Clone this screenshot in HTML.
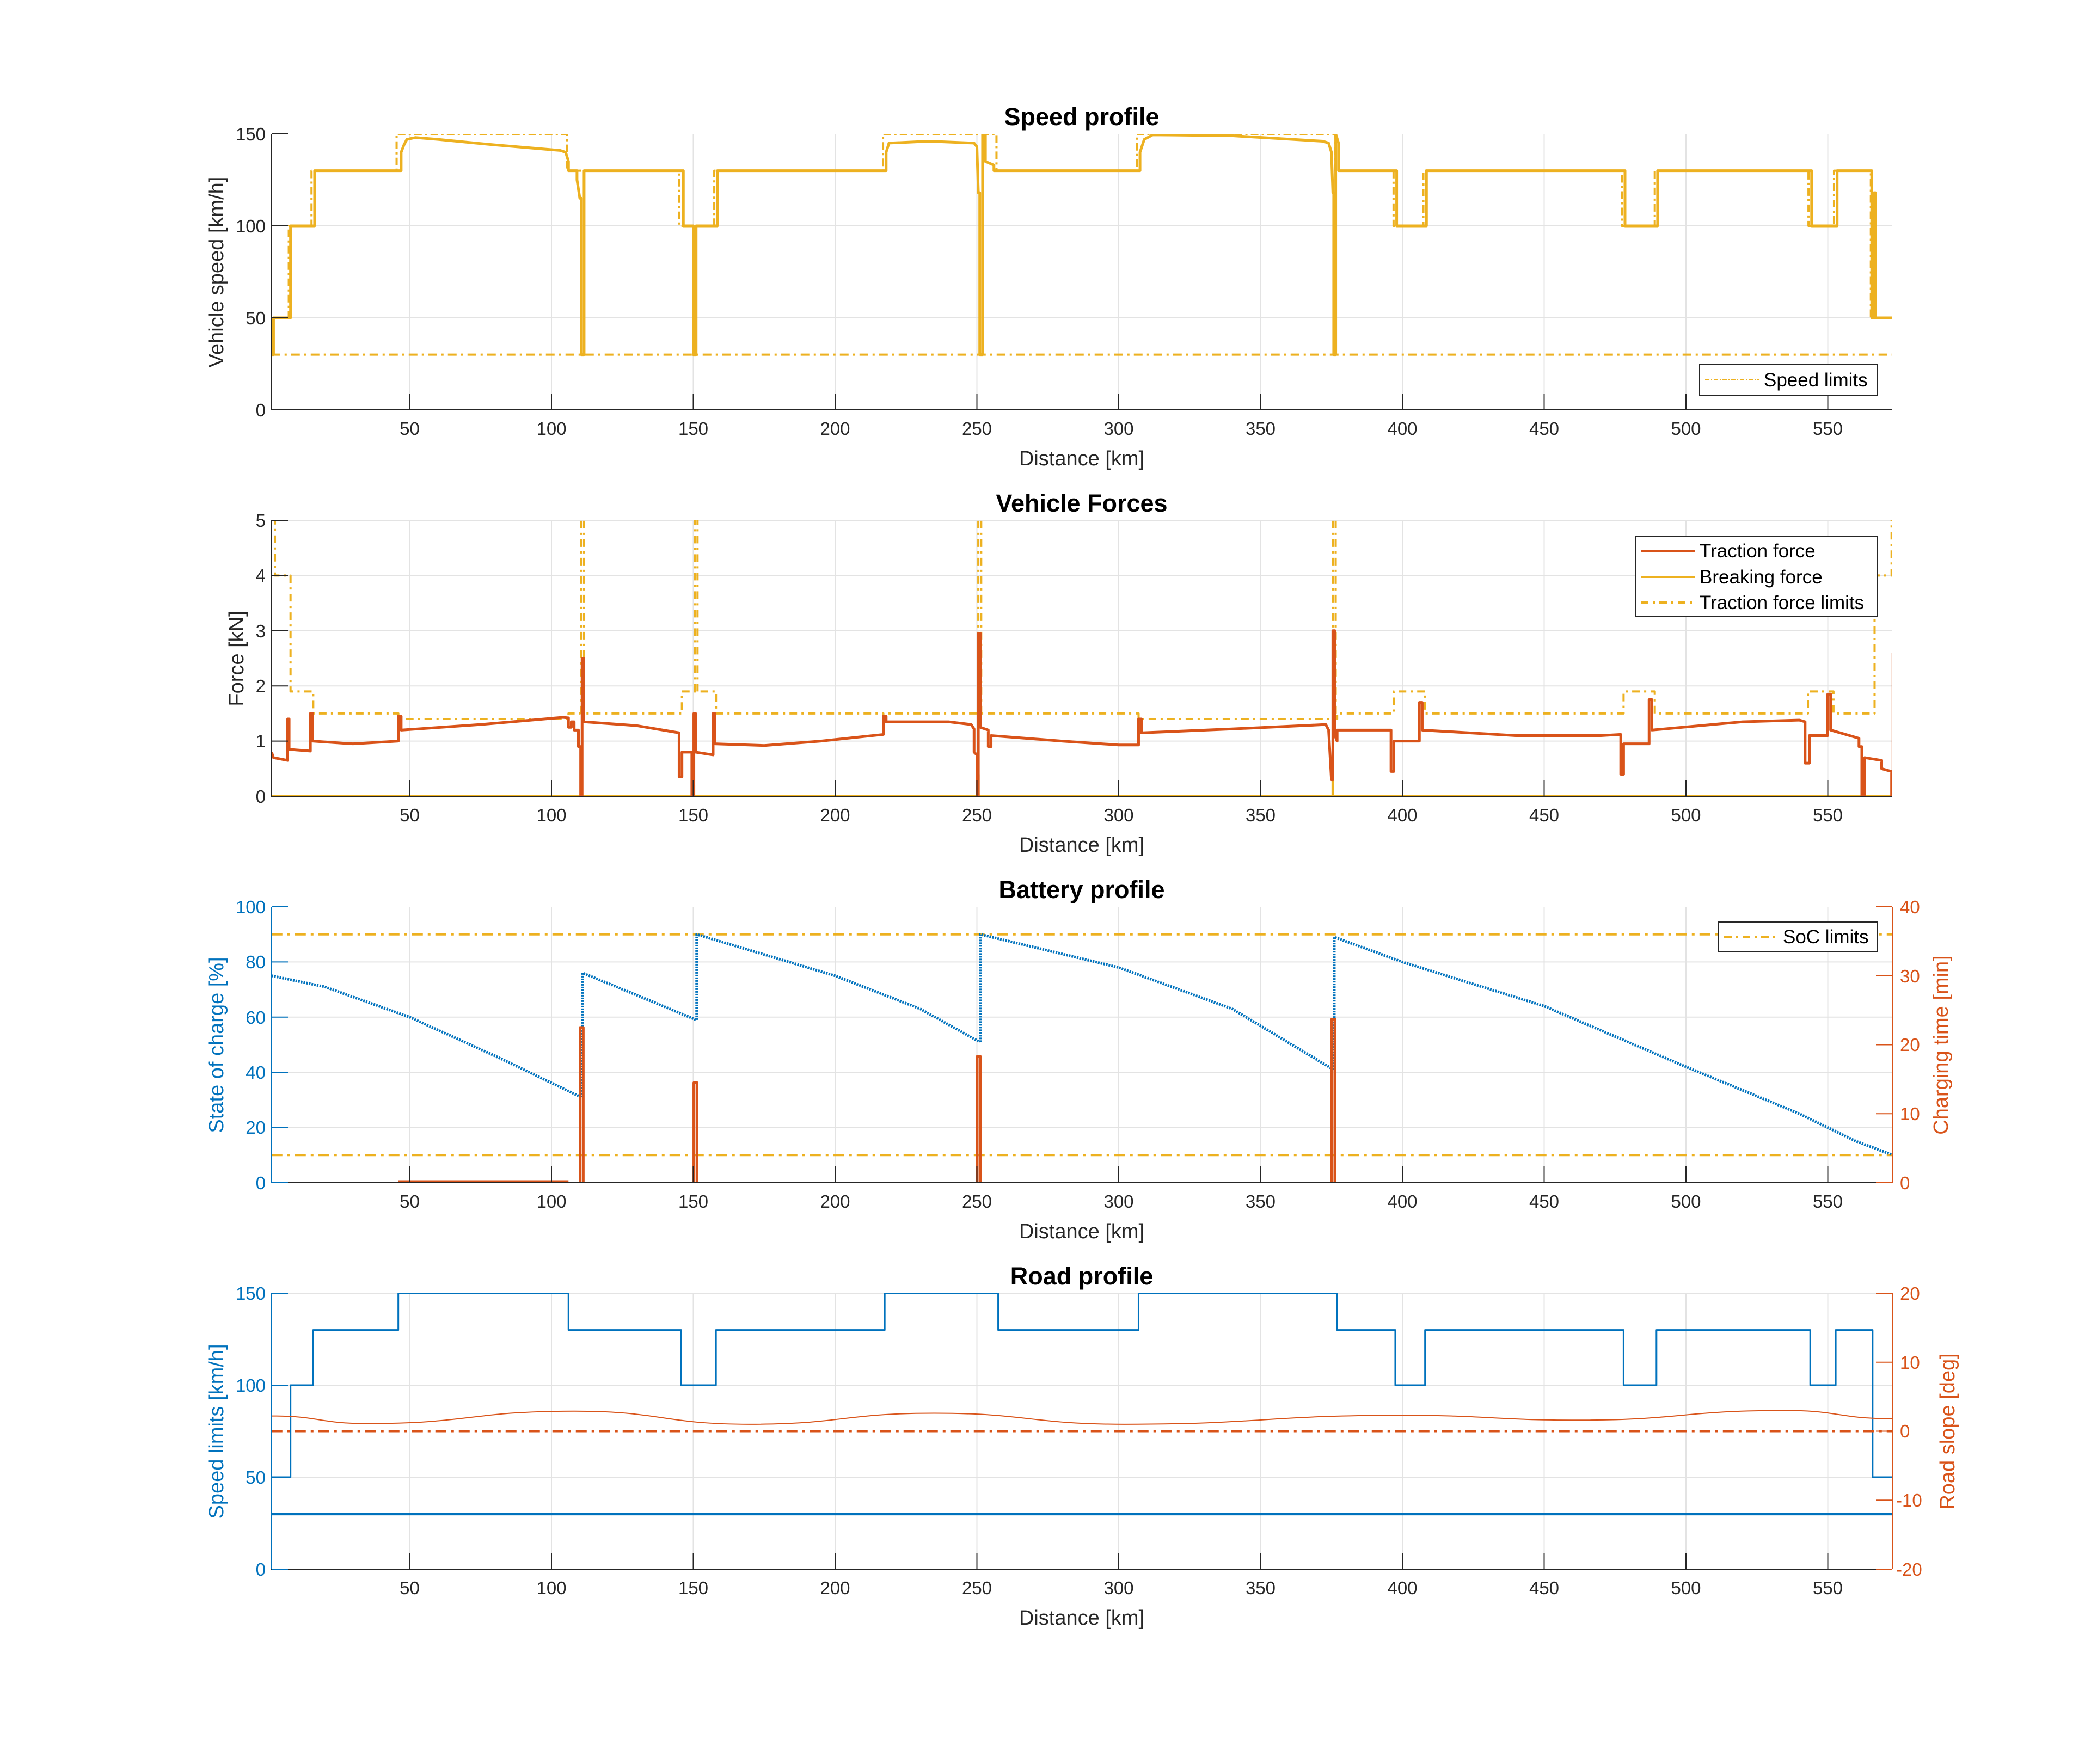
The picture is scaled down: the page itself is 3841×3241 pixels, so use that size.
<!DOCTYPE html>
<html><head><meta charset="utf-8"><style>
html,body{margin:0;padding:0;background:#fff;}
svg{display:block;font-family:"Liberation Sans",Arial,sans-serif;}
.d path{vector-effect:non-scaling-stroke;fill:none;stroke-linejoin:round;}
</style></head><body>
<svg xmlns="http://www.w3.org/2000/svg" width="3841" height="3241" viewBox="0 0 3841 3241">
<defs>
<clipPath id="c1"><rect x="499" y="246" width="2977" height="507"/></clipPath>
<clipPath id="c2"><rect x="499" y="956" width="2977" height="507"/></clipPath>
<clipPath id="c3"><rect x="499" y="1666" width="2977" height="507"/></clipPath>
<clipPath id="c4"><rect x="499" y="2376" width="2977" height="507"/></clipPath>
</defs>
<rect width="3841" height="3241" fill="#fff"/>

<!-- PLOT 1 -->
<g class="d" clip-path="url(#c1)">
<g transform="translate(492,753) scale(5.21,-3.38)">
<path stroke="#e3e3e3" stroke-width="2" d="M50,0V150M100,0V150M150,0V150M200,0V150M250,0V150M300,0V150M350,0V150M400,0V150M450,0V150M500,0V150M550,0V150M1.3,50H573M1.3,100H573M1.3,150H573"/>
<path stroke="#EDB120" stroke-width="4" stroke-dasharray="14 6 4 6" d="M1.3,50H7.4V100H15.4V130H45.4V150H105.4V130H145.1V100H157.4V130H216.9V150H256.9V130H306.4V150H376.4V130H396.9V100H407.4V130H477.4V100H489V130H543.2V100H552.2V130H565.2V50H573"/>
<path stroke="#EDB120" stroke-width="4" stroke-dasharray="16 8 4 8" d="M1.3,30H573"/>
<path stroke="#EDB120" stroke-width="5" d="M1.3,30H2V50H8V100H16.5V130H47V140L48,144L49,147L52,148L60,147L80,144L103,141L105,140L106,135V130H109V125L110,115H110.5V30H111.5V130H146.5V100H150V30H151V100H158.5V130H218V140L219,145L233,146L249,145L250,143L250.5,118H251V30H252V150H253V135L256,133V130H307.5V140L309,147L312,149.5L340,149L372,146L374,145L375,140L375.5,118H375.8V30H376.5V150L377.5,145V130H398V100H408.5V130H478.5V100H490V130H544.3V100H553.3V130H565.5V50H566.3V118H566.8V50H573"/>
</g></g>

<!-- PLOT 2 -->
<g class="d" clip-path="url(#c2)">
<g transform="translate(492,1463) scale(5.21,-101.4)">
<path stroke="#e3e3e3" stroke-width="2" d="M50,0V5M100,0V5M150,0V5M200,0V5M250,0V5M300,0V5M350,0V5M400,0V5M450,0V5M500,0V5M550,0V5M1.3,1H573M1.3,2H573M1.3,3H573M1.3,4H573M1.3,5H573"/>
<path stroke="#EDB120" stroke-width="4" stroke-dasharray="14 8 4 8" d="M1.3,5H2.5V4H8V1.9H16V1.5H46V1.4H106V1.5H110V1.6H110.8V1.5H146V1.9H158V1.5H217V1.45H218V1.5H307V1.4H377V1.5H397V1.9H408V1.5H478V1.9H489V1.5H543V1.9H552V1.5H566.5V4H572.5V5H573"/>
<path stroke="#EDB120" stroke-width="4" stroke-dasharray="14 8 4 8" d="M110.5,1.5V5.6M111.5,1.5V5.6M150.5,1.9V5.6M151.5,1.9V5.6M250.5,1.5V5.6M251.5,1.5V5.6M375.5,1.5V5.6M376.5,1.5V5.6"/>
<path stroke="#EDB120" stroke-width="5" d="M1.3,0H573M110.5,0V0.2M150.2,0V0.2M250.5,0V0.4M375.5,0V0.4"/>
<path stroke="#D95319" stroke-width="5" d="M1.3,0.8L2,0.7L7,0.65V1.4H7.5V0.85L15,0.82V1.5H15.8V1L30,0.95L46,1V1.45H47V1.2L75,1.3L104,1.43L106,1.42V1.25H107V1.35H108V1.2H109.5V0.9H110.3V0H110.8V2.5H111.4V1.35L130,1.28L145,1.15V0.35H146V0.8H149.5V0H150.2V1.5H150.8V0.8L157,0.75V1.5H157.6V0.95L175,0.92L195,1L217,1.12V1.45H218V1.35L240,1.35L248,1.3L249,1.22V0.8L250,0.75V0H250.5V2.95H251.2V1.25L254,1.2V0.9H255V1.1L280,1L300,0.93L307,0.93V1.4H308V1.15L340,1.22L373,1.3L374,1.2L375,0.3H375.5V3H376.2V1.1L377,1V1.2H396V0.45H397V1H406V1.7H407V1.2L440,1.1L470,1.1L477,1.12V0.4H478V0.95H487V1.75H488V1.2L520,1.35L540,1.38L542,1.35V0.6H543.5V1.1H550V1.85H551V1.2L561,1.05V0.9H562V0H563V0.7L569,0.65V0.5L572.5,0.45V0H573V2.6"/>
</g></g>

<!-- PLOT 3 -->
<g class="d" clip-path="url(#c3)">
<g transform="translate(492,2173) scale(5.21,-5.07)">
<path stroke="#e3e3e3" stroke-width="2" d="M50,0V100M100,0V100M150,0V100M200,0V100M250,0V100M300,0V100M350,0V100M400,0V100M450,0V100M500,0V100M550,0V100M1.3,20H573M1.3,40H573M1.3,60H573M1.3,80H573M1.3,100H573"/>
<path stroke="#EDB120" stroke-width="4" stroke-dasharray="20 9 5 9" d="M1.3,90H573M1.3,10H573"/>
<path stroke="#0072BD" stroke-width="5" stroke-dasharray="3 2" d="M1.3,75L20,71L50,60L80,46L110.5,31M111,31V76L130,68L151,59M151.2,59V90L200,75L230,63L251,51M251.2,51V90L300,78L340,63L375.7,41M376,41V89L400,80L450,64L500,42L540,25L560,15L573,10"/>
</g>
<g transform="translate(492,2173) scale(5.21,-12.675)">
<path stroke="#D95319" stroke-width="4" d="M1.3,0H573M46,0.2H106"/>
<path stroke="#D95319" stroke-width="5" d="M110.1,0V22.5H111.2V0M150.2,0V14.5H151.3V0M250.1,0V18.3H251.2V0M375.1,0V23.7H376.2V0"/>
</g></g>

<!-- PLOT 4 -->
<g class="d" clip-path="url(#c4)">
<g transform="translate(492,2883) scale(5.21,-3.38)">
<path stroke="#e3e3e3" stroke-width="2" d="M50,0V150M100,0V150M150,0V150M200,0V150M250,0V150M300,0V150M350,0V150M400,0V150M450,0V150M500,0V150M550,0V150M1.3,50H573M1.3,100H573M1.3,150H573"/>
<path stroke="#0072BD" stroke-width="3" d="M1.3,50H8V100H16V130H46V150H106V130H145.7V100H158V130H217.5V150H257.5V130H307V150H377V130H397.5V100H408V130H478V100H489.6V130H543.8V100H552.8V130H565.8V50H573"/>
<path stroke="#0072BD" stroke-width="5" d="M1.3,30H573"/>
</g>
<g transform="translate(492,2629.5) scale(5.21,-12.675)">
<path stroke="#D95319" stroke-width="4" stroke-dasharray="20 9 5 9" d="M1.3,0H573"/>
<path stroke="#D95319" stroke-width="2" d="M1.3,2.2C18.2,2.2 18.2,1.1 35,1.1C71.5,1.1 71.5,2.9 108,2.9C139,2.9 139,1 170,1C202.5,1 202.5,2.6 235,2.6C268.5,2.6 268.5,1 302,1C351,1 351,2.3 400,2.3C431,2.3 431,1.6 462,1.6C498.5,1.6 498.5,3 535,3C554,3 554,1.8 573,1.8"/>
</g></g>

<!-- AXES -->
<g fill="none" stroke-width="2">
<path stroke="#262626" d="M499,246V753H3476M499,956V1463H3476M499,1666V2173H3476M499,2376V2883H3476"/>
<path stroke="#262626" d="M752.5,753v-30M1013,753v-30M1273.5,753v-30M1534,753v-30M1794.5,753v-30M2055,753v-30M2315.5,753v-30M2576,753v-30M2836.5,753v-30M3097,753v-30M3357.5,753v-30"/>
<path stroke="#262626" d="M752.5,1463v-30M1013,1463v-30M1273.5,1463v-30M1534,1463v-30M1794.5,1463v-30M2055,1463v-30M2315.5,1463v-30M2576,1463v-30M2836.5,1463v-30M3097,1463v-30M3357.5,1463v-30"/>
<path stroke="#262626" d="M752.5,2173v-30M1013,2173v-30M1273.5,2173v-30M1534,2173v-30M1794.5,2173v-30M2055,2173v-30M2315.5,2173v-30M2576,2173v-30M2836.5,2173v-30M3097,2173v-30M3357.5,2173v-30"/>
<path stroke="#262626" d="M752.5,2883v-30M1013,2883v-30M1273.5,2883v-30M1534,2883v-30M1794.5,2883v-30M2055,2883v-30M2315.5,2883v-30M2576,2883v-30M2836.5,2883v-30M3097,2883v-30M3357.5,2883v-30"/>
<path stroke="#262626" d="M499,753h30M499,584h30M499,415h30M499,246h30M499,1463h30M499,1361.6h30M499,1260.2h30M499,1158.8h30M499,1057.4h30M499,956h30"/>
<path stroke="#0072BD" d="M499,1666V2173M499,2376V2883M499,2173h30M499,2071.6h30M499,1970.2h30M499,1868.8h30M499,1767.4h30M499,1666h30M499,2883h30M499,2714h30M499,2545h30M499,2376h30"/>
<path stroke="#D95319" d="M3476,1666V2173M3476,2376V2883M3476,2173h-30M3476,2046.25h-30M3476,1919.5h-30M3476,1792.75h-30M3476,1666h-30M3476,2883h-30M3476,2756.25h-30M3476,2629.5h-30M3476,2502.75h-30M3476,2376h-30"/>
</g>

<!-- X tick labels -->
<g font-size="33" fill="#262626" text-anchor="middle">
<g transform="translate(0,799)"><text x="752.5" y="0">50</text><text x="1013" y="0">100</text><text x="1273.5" y="0">150</text><text x="1534" y="0">200</text><text x="1794.5" y="0">250</text><text x="2055" y="0">300</text><text x="2315.5" y="0">350</text><text x="2576" y="0">400</text><text x="2836.5" y="0">450</text><text x="3097" y="0">500</text><text x="3357.5" y="0">550</text></g>
<g transform="translate(0,1509)"><text x="752.5" y="0">50</text><text x="1013" y="0">100</text><text x="1273.5" y="0">150</text><text x="1534" y="0">200</text><text x="1794.5" y="0">250</text><text x="2055" y="0">300</text><text x="2315.5" y="0">350</text><text x="2576" y="0">400</text><text x="2836.5" y="0">450</text><text x="3097" y="0">500</text><text x="3357.5" y="0">550</text></g>
<g transform="translate(0,2219)"><text x="752.5" y="0">50</text><text x="1013" y="0">100</text><text x="1273.5" y="0">150</text><text x="1534" y="0">200</text><text x="1794.5" y="0">250</text><text x="2055" y="0">300</text><text x="2315.5" y="0">350</text><text x="2576" y="0">400</text><text x="2836.5" y="0">450</text><text x="3097" y="0">500</text><text x="3357.5" y="0">550</text></g>
<g transform="translate(0,2929)"><text x="752.5" y="0">50</text><text x="1013" y="0">100</text><text x="1273.5" y="0">150</text><text x="1534" y="0">200</text><text x="1794.5" y="0">250</text><text x="2055" y="0">300</text><text x="2315.5" y="0">350</text><text x="2576" y="0">400</text><text x="2836.5" y="0">450</text><text x="3097" y="0">500</text><text x="3357.5" y="0">550</text></g>
</g>

<!-- titles -->
<g font-size="45" font-weight="bold" fill="#000" text-anchor="middle">
<text x="1987" y="230">Speed profile</text>
<text x="1987" y="940">Vehicle Forces</text>
<text x="1987" y="1650">Battery profile</text>
<text x="1987" y="2360">Road profile</text>
</g>
<g font-size="38" fill="#262626" text-anchor="middle">
<text x="1987" y="855">Distance [km]</text>
<text x="1987" y="1565">Distance [km]</text>
<text x="1987" y="2275">Distance [km]</text>
<text x="1987" y="2985">Distance [km]</text>
<text transform="translate(410,500) rotate(-90)">Vehicle speed [km/h]</text>
<text transform="translate(447,1210) rotate(-90)">Force [kN]</text>
<text transform="translate(410,1920) rotate(-90)" fill="#0072BD">State of charge [%]</text>
<text transform="translate(410,2630) rotate(-90)" fill="#0072BD">Speed limits [km/h]</text>
<text transform="translate(3578,1920) rotate(-90)" fill="#D95319">Charging time [min]</text>
<text transform="translate(3590,2630) rotate(-90)" fill="#D95319">Road slope [deg]</text>
</g>
<g font-size="33" text-anchor="end" fill="#262626">
<text x="488" y="258">150</text><text x="488" y="427">100</text><text x="488" y="596">50</text><text x="488" y="765">0</text>
<text x="488" y="968">5</text><text x="488" y="1069">4</text><text x="488" y="1171">3</text><text x="488" y="1272">2</text><text x="488" y="1373">1</text><text x="488" y="1475">0</text>
</g>
<g font-size="33" text-anchor="end" fill="#0072BD">
<text x="488" y="1678">100</text><text x="488" y="1779">80</text><text x="488" y="1881">60</text><text x="488" y="1982">40</text><text x="488" y="2083">20</text><text x="488" y="2185">0</text>
<text x="488" y="2388">150</text><text x="488" y="2557">100</text><text x="488" y="2726">50</text><text x="488" y="2895">0</text>
</g>
<g font-size="33" text-anchor="start" fill="#D95319">
<text x="3490" y="1678">40</text><text x="3490" y="1805">30</text><text x="3490" y="1931">20</text><text x="3490" y="2058">10</text><text x="3490" y="2185">0</text>
<text x="3490" y="2388">20</text><text x="3490" y="2515">10</text><text x="3490" y="2641">0</text><text x="3483" y="2768">-10</text><text x="3483" y="2895">-20</text>
</g>

<!-- legends -->
<g font-size="35" fill="#000">
<rect x="3122" y="670" width="327" height="56" fill="#fff" stroke="#262626" stroke-width="2"/>
<line x1="3132" y1="698" x2="3232" y2="698" stroke="#EDB120" stroke-width="2" stroke-dasharray="8 3 2 3"/>
<text x="3240" y="710">Speed limits</text>
<rect x="3004" y="985" width="445" height="148" fill="#fff" stroke="#262626" stroke-width="2"/>
<line x1="3014" y1="1012" x2="3114" y2="1012" stroke="#D95319" stroke-width="4"/>
<line x1="3014" y1="1060" x2="3114" y2="1060" stroke="#EDB120" stroke-width="4"/>
<line x1="3014" y1="1107" x2="3114" y2="1107" stroke="#EDB120" stroke-width="4" stroke-dasharray="14 8 4 8"/>
<text x="3122" y="1024">Traction force</text>
<text x="3122" y="1072">Breaking force</text>
<text x="3122" y="1119">Traction force limits</text>
<rect x="3157" y="1694" width="292" height="55" fill="#fff" stroke="#262626" stroke-width="2"/>
<line x1="3167" y1="1721" x2="3267" y2="1721" stroke="#EDB120" stroke-width="4" stroke-dasharray="14 8 4 8"/>
<text x="3275" y="1733">SoC limits</text>
</g>
</svg>
</body></html>
